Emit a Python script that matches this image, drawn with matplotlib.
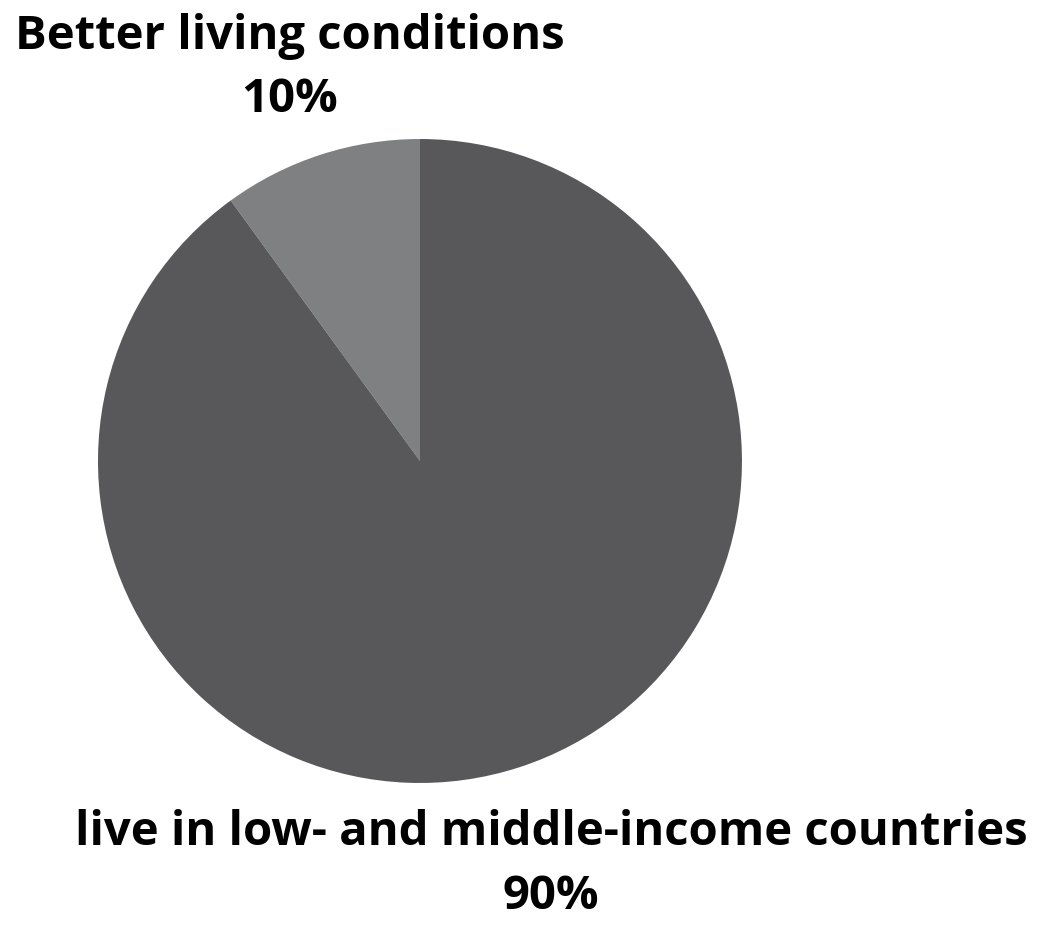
import matplotlib
matplotlib.use("Agg")
import matplotlib.pyplot as plt

labels = ["Better living conditions", "live in low- and middle-income countries"]
values = [10, 90]
pct_labels = ["10%", "90%"]
colors = ["#7f8082", "#58585a"]

fig = plt.figure(figsize=(10.38, 9.29), dpi=100)
fig.patch.set_facecolor("white")
ax = fig.add_axes([0.0944, 0.1561, 0.6204, 0.6932])
ax.pie(values, colors=colors, startangle=90, counterclock=True,
       wedgeprops=dict(linewidth=0))
ax.set_aspect("equal")
ax.set_xlim(-1, 1)
ax.set_ylim(-1, 1)
ax.axis("off")

font = dict(family=["Open Sans", "DejaVu Sans"], fontweight="bold", fontsize=34, color="black")
fig.text(290/1038, 1-36/929, labels[0], ha="center", va="center", **font)
fig.text(290/1038, 1-100/929, pct_labels[0], ha="center", va="center", **font)
fig.text(551/1038, 1-833/929, labels[1], ha="center", va="center", **font)
fig.text(551/1038, 1-897/929, pct_labels[1], ha="center", va="center", **font)

fig.savefig("out.png", dpi=100, facecolor="white")
